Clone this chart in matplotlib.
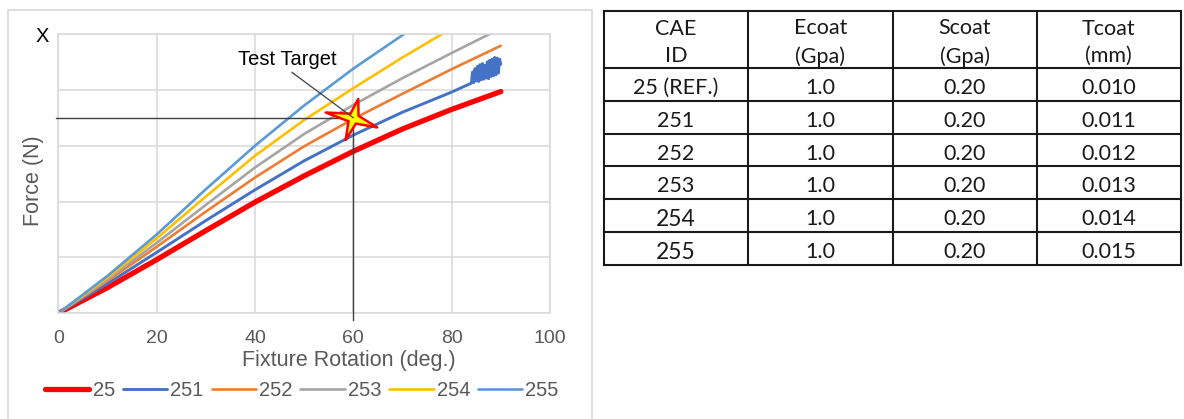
import matplotlib
matplotlib.use("Agg")
import matplotlib.pyplot as plt
from matplotlib.path import Path
from matplotlib.patches import Rectangle

plt.rcParams['font.family'] = ['Liberation Sans', 'DejaVu Sans']

# force vs fixture rotation, one curve per CAE run (force in grid units)
rot = [0, 10, 20, 30, 40, 50, 60, 70, 80, 90]
f25 = [0, 0.46, 0.96, 1.48, 1.99, 2.46, 2.90, 3.30, 3.65, 3.97]
f252 = [0, 0.58, 1.19, 1.82, 2.43, 2.99, 3.48, 3.93, 4.37, 4.79]
f253 = [0, 0.61, 1.26, 1.94, 2.61, 3.21, 3.73, 4.21, 4.66, 5.10]
f254 = [0, 0.64, 1.34, 2.09, 2.82, 3.46, 4.03, 4.58, 5.10, 5.55]
f255 = [0, 0.67, 1.41, 2.22, 3.00, 3.72, 4.38, 4.98, 5.55, 6.10]

# 251 goes unstable near the end
rot251 = [0, 10, 20, 30, 40, 50, 60, 70, 80,
          84.0, 84.25, 84.5, 84.75, 85.0, 85.25, 85.5, 85.75, 86.0, 86.25,
          86.5, 86.75, 87.0, 87.25, 87.5, 87.75, 88.0, 88.25, 88.5, 88.75,
          89.0, 89.25, 89.5, 89.75, 90.0]
f251 = [0, 0.53, 1.09, 1.66, 2.21, 2.73, 3.19, 3.60, 3.96,
        4.12, 4.32, 4.13, 4.38, 4.16, 4.42, 4.15, 4.45, 4.18, 4.47,
        4.19, 4.44, 4.21, 4.50, 4.20, 4.53, 4.24, 4.55, 4.25, 4.58,
        4.27, 4.57, 4.30, 4.55, 4.46]

target_rot = 60
target_force = 3.5

# table
headers = ['CAE\nID', 'Ecoat\n(Gpa)', 'Scoat\n(Gpa)', 'Tcoat\n(mm)']
cae_id = ['25 (REF.)', '251', '252', '253', '254', '255']
ecoat = ['1.0', '1.0', '1.0', '1.0', '1.0', '1.0']
scoat = ['0.20', '0.20', '0.20', '0.20', '0.20', '0.20']
tcoat = ['0.010', '0.011', '0.012', '0.013', '0.014', '0.015']

W, H = 1184, 419
fig = plt.figure(figsize=(W / 100, H / 100), dpi=100)

# chart frame
fig.add_artist(Rectangle((8 / W, -0.05), 584 / W, (H - 10) / H + 0.05,
                         transform=fig.transFigure, fill=False,
                         edgecolor='#D9D9D9', lw=1.2))

ax = fig.add_axes([58.3 / W, 1 - 313.3 / H, (550 - 58.3) / W, (313.3 - 34) / H])
ax.set_xlim(0, 100)
ax.set_ylim(0, 5)

series = [
    ('25', rot, f25, '#FF0000', 3.8),
    ('251', rot251, f251, '#4472C4', 2.1),
    ('252', rot, f252, '#ED7D31', 1.9),
    ('253', rot, f253, '#A5A5A5', 1.9),
    ('254', rot, f254, '#FFC000', 1.9),
    ('255', rot, f255, '#5B9BD5', 1.9),
]
for name, xs, ys, c, lw in series:
    ax.plot(xs, ys, color=c, lw=lw, label=name, solid_capstyle='round',
            solid_joinstyle='round')

# target cross-hair
ax.plot([-0.5, target_rot], [target_force, target_force], color='#404040', lw=1.0, clip_on=False, zorder=4)
ax.plot([target_rot, target_rot], [target_force, -0.12], color='#404040', lw=1.0, clip_on=False, zorder=4)

star = Path([(5, 20.6), (5.3, 2.8), (25, -9.4), (2.5, -5.4), (-8.3, -22.7),
             (-5.2, -2.9), (-29.3, 6.3), (-3.2, 5.1), (5, 20.6)], closed=True)
ax.plot([target_rot], [target_force], marker=star, markersize=40,
        markerfacecolor='#FFFF00', markeredgecolor='#FF0000', markeredgewidth=1.8,
        zorder=5, clip_on=False)

ax.annotate('Test Target', xy=(target_rot, target_force), xytext=(46.5, 4.55),
            ha='center', va='center', fontsize=14.5, color='black',
            arrowprops=dict(arrowstyle='-', color='#404040', lw=0.9,
                            relpos=(0.5, 0), shrinkA=1, shrinkB=0), zorder=6)

ax.set_xticks([0, 20, 40, 60, 80, 100])
ax.set_yticks([0, 1, 2, 3, 4, 5])
ax.set_yticklabels(['', '', '', '', '', 'X'], fontsize=14.5, color='black')
ax.tick_params(axis='x', length=0, pad=12, labelsize=14, labelcolor='#595959')
ax.tick_params(axis='y', length=0, pad=7)
ax.grid(True, color='#D9D9D9', lw=1.1)
for s in ax.spines.values():
    s.set_color('#D9D9D9')
    s.set_linewidth(1.1)
ax.set_axisbelow(True)

ax.set_xlabel('Fixture Rotation (deg.)', fontsize=15.5, color='#595959')
ax.xaxis.set_label_coords(0.59, -0.13)
ax.set_ylabel('Force (N)', fontsize=15.5, color='#595959')
ax.yaxis.set_label_coords(-0.03, 0.474)

fig.legend(loc='center', bbox_to_anchor=(302 / W, 1 - 391 / H), ncol=6,
           frameon=False, fontsize=14.5, labelcolor='#595959',
           handlelength=2.2, handletextpad=0.15, columnspacing=0.4)

# parameter table, drawn in pixel units
tx0, tx1, ty0, ty1 = 604, 1181, 11, 265
tax = fig.add_axes([tx0 / W, 1 - ty1 / H, (tx1 - tx0) / W, (ty1 - ty0) / H])
tax.set_xlim(0, tx1 - tx0)
tax.set_ylim(ty1 - ty0, 0)
tax.axis('off')

head_h = 57
row_h = (ty1 - ty0 - head_h) / len(cae_id)
col_w = (tx1 - tx0) / len(headers)
line_kw = dict(color='#1A1A1A', lw=1.5, clip_on=False, solid_capstyle='projecting')

for i in range(len(headers) + 1):
    tax.plot([i * col_w, i * col_w], [0, ty1 - ty0], **line_kw)
tax.plot([0, tx1 - tx0], [0, 0], **line_kw)
for j in range(len(cae_id) + 1):
    y = head_h + j * row_h
    tax.plot([0, tx1 - tx0], [y, y], **line_kw)

tfont = ['Lato', 'DejaVu Sans']
for i, h in enumerate(headers):
    tax.text((i + 0.5) * col_w, head_h / 2 + 3, h, ha='center', va='center',
             fontsize=15.5, family=tfont, color='#1A1A1A', linespacing=1.45)

columns = [cae_id, ecoat, scoat, tcoat]
for i, col in enumerate(columns):
    for j, val in enumerate(col):
        size = 16.5 if (i == 0 and j >= 4) else 15.5
        tax.text((i + 0.5) * col_w, head_h + (j + 0.5) * row_h + 3.5, val,
                 ha='center', va='center', fontsize=size, family=tfont,
                 color='#1A1A1A')

fig.savefig('out.png', dpi=100)
